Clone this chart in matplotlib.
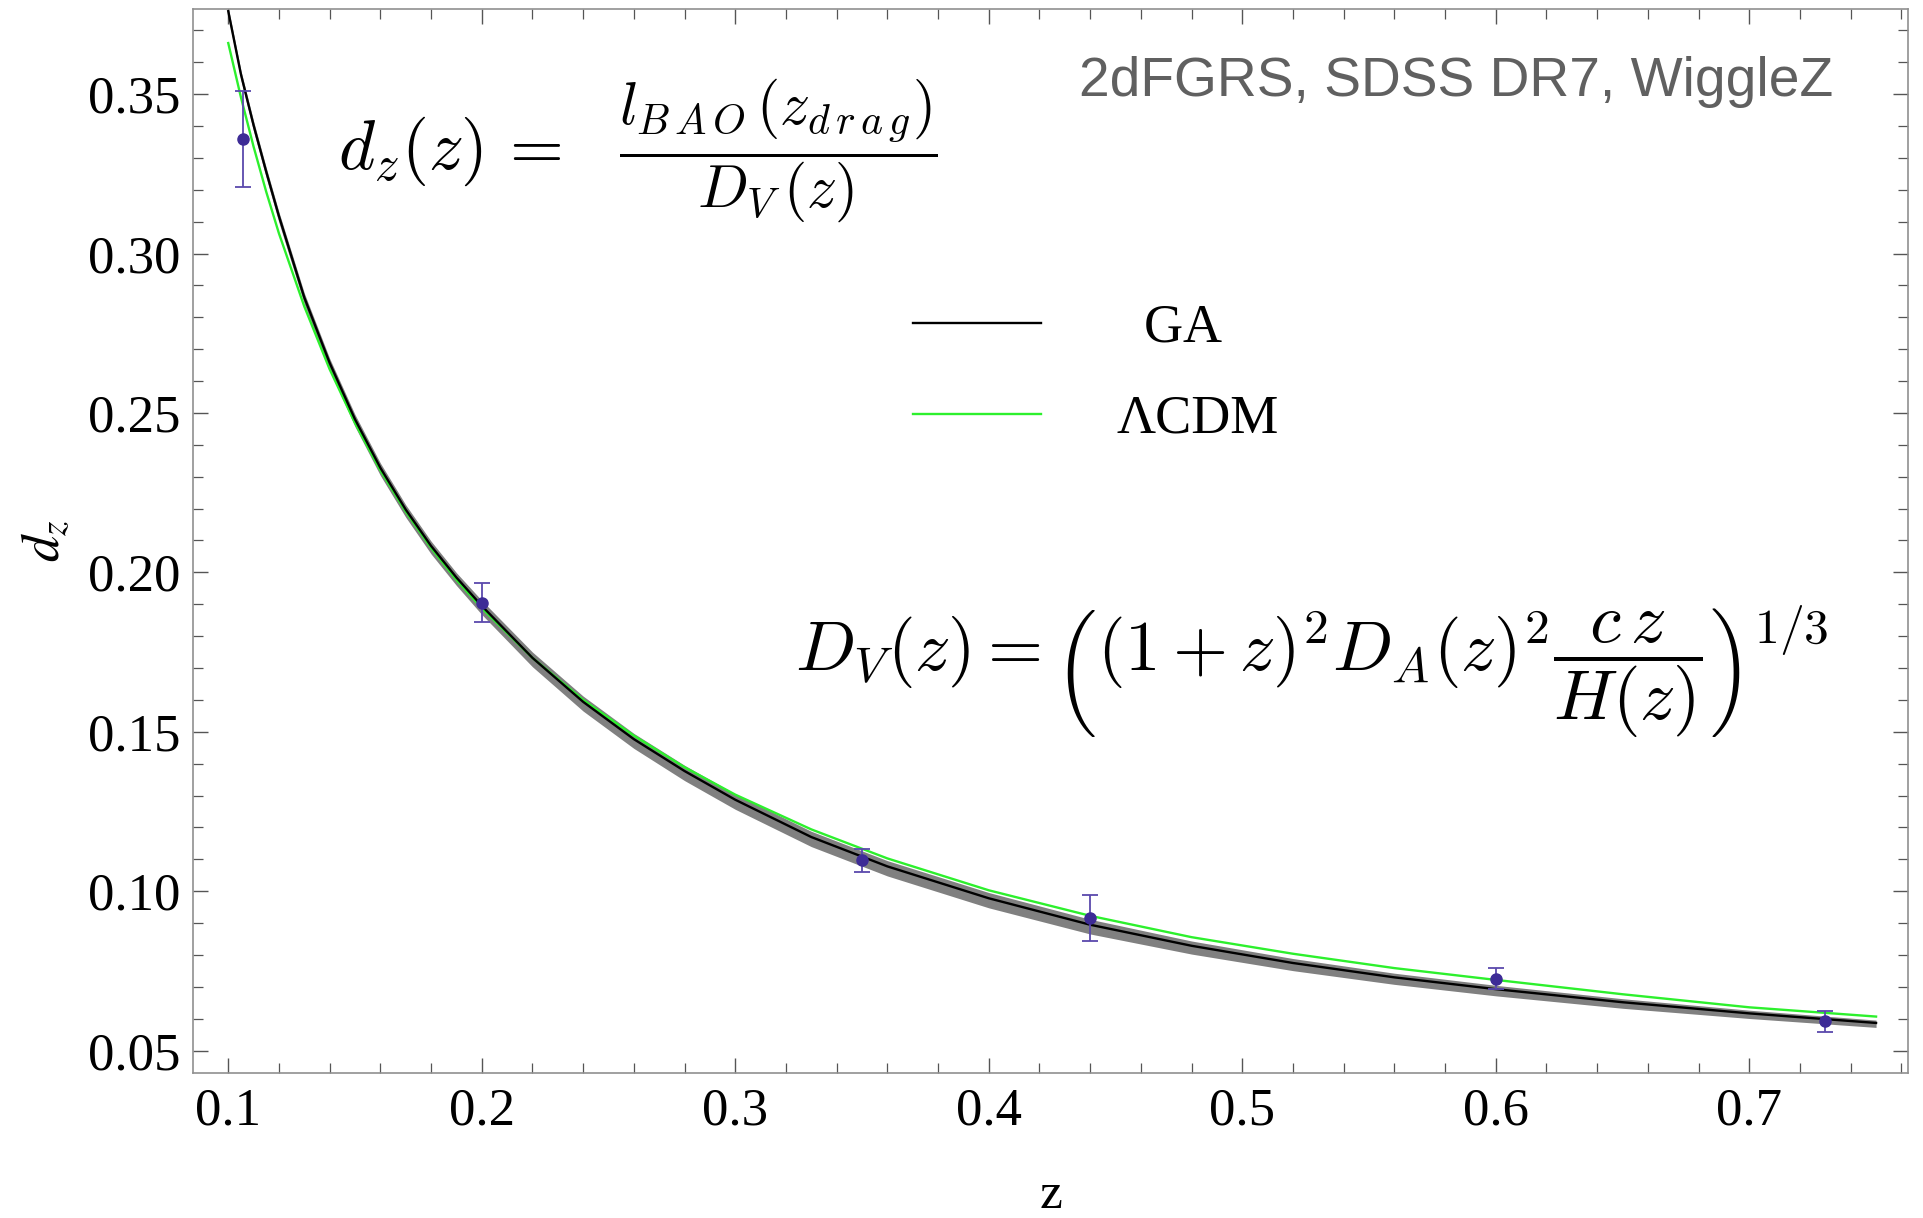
import numpy as np
import matplotlib
matplotlib.use('Agg')
import matplotlib.pyplot as plt
from matplotlib.ticker import MultipleLocator, FormatStrFormatter

# BAO data (6dF/2dFGRS, SDSS DR7, WiggleZ)
z_data = [0.106, 0.2, 0.35, 0.44, 0.6, 0.73]
dz_data = [0.336, 0.1905, 0.1097, 0.0916, 0.0726, 0.0592]
dz_err = [0.015, 0.0061, 0.0036, 0.0071, 0.0034, 0.0032]

# curves
z_curve = [0.100, 0.105, 0.110, 0.115, 0.120, 0.130, 0.140, 0.150, 0.160, 0.170,
           0.180, 0.190, 0.200, 0.220, 0.240, 0.260, 0.280, 0.300, 0.330, 0.360,
           0.400, 0.440, 0.480, 0.520, 0.560, 0.600, 0.650, 0.700, 0.750]
ga = [0.3760, 0.3562, 0.3402, 0.3256, 0.3117, 0.2862, 0.2657, 0.2480, 0.2328, 0.2197,
      0.2083, 0.1984, 0.1895, 0.1732, 0.1594, 0.1477, 0.1377, 0.1287, 0.1170, 0.1078,
      0.0978, 0.0895, 0.0829, 0.0775, 0.0730, 0.0693, 0.0652, 0.0617, 0.0587]
ga_lo = [0.3742, 0.3544, 0.3383, 0.3237, 0.3097, 0.2841, 0.2635, 0.2457, 0.2304, 0.2173,
         0.2058, 0.1959, 0.1868, 0.1704, 0.1565, 0.1448, 0.1347, 0.1257, 0.1140, 0.1048,
         0.0948, 0.0866, 0.0803, 0.0751, 0.0708, 0.0672, 0.0633, 0.0601, 0.0573]
ga_hi = [0.3772, 0.3574, 0.3415, 0.3269, 0.3130, 0.2876, 0.2671, 0.2495, 0.2343, 0.2212,
         0.2098, 0.1999, 0.1912, 0.1750, 0.1612, 0.1495, 0.1395, 0.1305, 0.1188, 0.1096,
         0.0996, 0.0912, 0.0844, 0.0789, 0.0743, 0.0705, 0.0663, 0.0627, 0.0596]
lcdm = [0.3660, 0.3490, 0.3335, 0.3193, 0.3063, 0.2834, 0.2637, 0.2468, 0.2320, 0.2191,
        0.2077, 0.1977, 0.1888, 0.1732, 0.1600, 0.1488, 0.1389, 0.1303, 0.1194, 0.1103,
        0.1003, 0.0923, 0.0856, 0.0804, 0.0759, 0.0722, 0.0677, 0.0636, 0.0607]

# GA label is centred over the longer one in the original
labels = [r'$\;\;$GA', 'ΛCDM']

plt.rcParams['font.family'] = ['Liberation Serif', 'DejaVu Serif']
plt.rcParams['mathtext.fontset'] = 'cm'

fig = plt.figure(figsize=(19.23, 12.18), dpi=100)
ax = fig.add_axes([0.1005, 0.1193, 0.8917, 0.8731])

ax.fill_between(z_curve, ga_lo, ga_hi, color='#808080', lw=0, zorder=1)
ax.plot(z_curve, ga, color='black', lw=1.7, label=labels[0], zorder=3)
ax.plot(z_curve, lcdm, color='#2df02d', lw=1.7, label=labels[1], zorder=2)
ax.errorbar(z_data, dz_data, yerr=dz_err, fmt='o', color='#3d2b96', ecolor='#5a49ad',
            ms=8, elinewidth=1.3, capsize=6, capthick=1.3, zorder=4)

ax.set_xlim(0.0862, 0.7626)
ax.set_ylim(0.0431, 0.3766)
ax.xaxis.set_major_locator(MultipleLocator(0.1))
ax.xaxis.set_minor_locator(MultipleLocator(0.02))
ax.yaxis.set_major_locator(MultipleLocator(0.05))
ax.yaxis.set_minor_locator(MultipleLocator(0.01))
ax.xaxis.set_major_formatter(FormatStrFormatter('%.1f'))
ax.yaxis.set_major_formatter(FormatStrFormatter('%.2f'))
ax.tick_params(which='both', direction='in', top=True, right=True, colors='#555555',
               labelcolor='black', labelsize=38)
ax.tick_params(which='major', length=11, width=1.0)
ax.tick_params(which='minor', length=7, width=0.9)
ax.tick_params(axis='x', pad=11)
ax.tick_params(axis='y', pad=9)
for s in ax.spines.values():
    s.set_color('#909090')
    s.set_linewidth(1.2)

ax.set_xlabel('z', fontsize=37, labelpad=26)
ax.set_ylabel(r'$d_z$', fontsize=38, labelpad=13, math_fontfamily='stix')

ax.text(0.9565, 0.9188, '2dFGRS, SDSS DR7, WiggleZ', transform=ax.transAxes,
        ha='right', va='baseline', fontsize=39.7, color='#606060',
        family=['Liberation Sans', 'DejaVu Sans'])

# d_z definition: left side and the fraction
ax.text(0.0844, 0.8667, r'$d_z(z)\,=$', transform=ax.transAxes,
        ha='left', va='center', fontsize=50, math_fontfamily='cm')
ax.text(0.2483, 0.8667, r'$\dfrac{l_{B\,A\,O}\,(z_{d\,r\,a\,g})}{D_V\,(z)}$',
        transform=ax.transAxes, ha='left', va='center', fontsize=43, math_fontfamily='cm')

ax.text(0.351, 0.376, r'$D_V(z)=\left((1+z)^2D_A(z)^2\dfrac{c\,z}{H(z)}\right)^{1/3}$',
        transform=ax.transAxes, ha='left', va='center', fontsize=51, math_fontfamily='cm')

leg = ax.legend(loc='upper left', bbox_to_anchor=(0.4196, 0.7235), frameon=False,
                fontsize=39, handlelength=2.37, handletextpad=1.4, labelspacing=0.75,
                borderpad=0, borderaxespad=0)

fig.savefig('out.png', dpi=100)
